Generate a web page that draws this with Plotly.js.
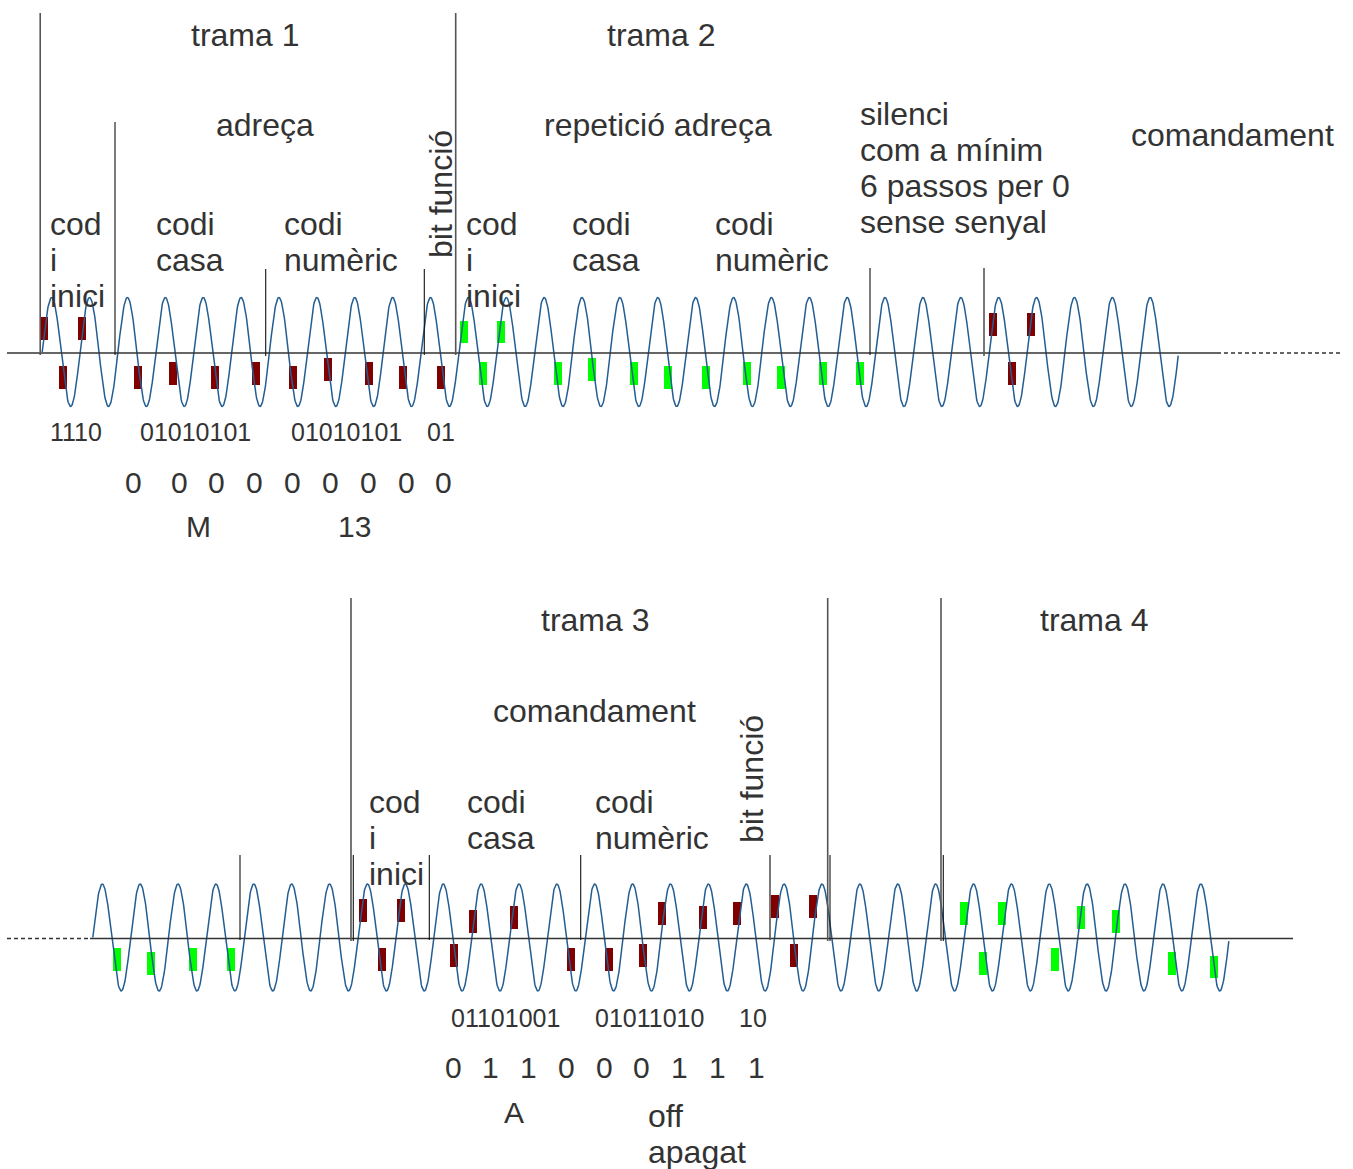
<!DOCTYPE html>
<html>
<head>
<meta charset="utf-8">
<script src="https://cdn.plot.ly/plotly-3.0.1.min.js"></script>
<style>
html,body{margin:0;padding:0;background:#fff;}
#chart{width:1353px;height:1169px;}
</style>
</head>
<body>
<div id="chart"></div>
<script>
// ---------- carrier waves (one per row) ----------
var waveStartX   = [42.2, 92.8];     // rising zero crossing where each carrier begins
var waveCycles   = [30, 30];
var wavePeriod   = 37.88;
var waveAxisY    = [352, 937.5];
var waveAmp      = [54.5, 53.5];

// ---------- baselines ----------
var baseSolidX0 = [7, 90];
var baseSolidX1 = [1217, 1293];
var baseSolidY  = [353, 938.5];
var baseDashX0  = [1217, 7];
var baseDashX1  = [1343, 90];

// ---------- bit pulses (x centre, top y) ----------
var redTopX   = [44, 82, 62.7, 138, 172.7, 214.5, 255.7, 293, 327.5, 369, 403, 441, 992.8, 1030.8, 1011.8];
var redTopY   = [317, 317, 366, 366, 362.3, 366, 362, 366, 358, 362, 366, 366, 313.3, 313.3, 362];
var greenTopX = [463.5, 501.3, 482.7, 558, 592, 633.7, 668, 705.7, 747, 781.3, 823, 860.3];
var greenTopY = [320.7, 320.7, 362, 362, 358, 362, 366, 366, 362, 366, 362, 362];
var greenBotX = [117, 151.3, 192.7, 230.7, 963.8, 1001.8, 982.8, 1054.7, 1081.2, 1115.5, 1171.8, 1213.7];
var greenBotY = [948.3, 952, 948.3, 948.3, 902.3, 902.3, 952, 948.3, 906.3, 910, 952, 955.7];
var redBotX   = [362.8, 400.8, 381.8, 453.7, 472.8, 514.2, 570.8, 608.8, 642.5, 661.5, 703.2, 737.2, 775.2, 812.8, 793.8];
var redBotY   = [899, 899, 948.3, 944.3, 910, 906.3, 948.3, 948.3, 944.3, 902.3, 906.3, 902.3, 895, 895, 944.3];
var pulseH = 22.5, pulseW = 8;

// ---------- divider lines ----------
var divX     = [40.2, 115, 265.7, 424.3, 455.7, 870, 984,  351, 353.3, 240, 429.3, 580.7, 770, 827.7, 830, 941, 943.3];
var divY0    = [13, 122, 269, 269, 13, 268, 268,  598, 855, 855, 855, 855, 855, 598, 855, 598, 855];
var divY1    = [355, 355, 356, 355, 355, 355, 356,  941, 941, 940, 940, 940, 940, 941, 941, 941, 941];
var divDark  = [0, 1, 1, 1, 0, 1, 0,  0, 1, 1, 1, 1, 0, 0, 1, 0, 1];

// ---------- texts ----------
var frameTitles = ['trama 1', 'trama 2', 'trama 3', 'trama 4'];
var frameTitleX = [245, 661, 594.5, 1093.5];
var frameTitleY = [35, 35, 620, 620];

var sectionTitles = ['adreça', 'repetició adreça', 'comandament', 'comandament'];
var sectionX = [264.5, 657.5, 1232, 594];
var sectionY = [125, 125, 135, 711];

var fieldLines = ['cod', 'i', 'inici', 'codi', 'casa', 'codi', 'numèric',
                  'cod', 'i', 'inici', 'codi', 'casa', 'codi', 'numèric',
                  'silenci', 'com a mínim', '6 passos per 0', 'sense senyal',
                  'cod', 'i', 'inici', 'codi', 'casa', 'codi', 'numèric',
                  'off', 'apagat'];
var fieldX = [49, 49, 49, 155, 155, 283, 283,
              465, 465, 465, 571, 571, 714, 714,
              859, 859, 859, 859,
              368, 368, 368, 466, 466, 594, 594,
              647, 647];
var fieldY = [224, 260, 296, 224, 260, 224, 260,
              224, 260, 296, 224, 260, 224, 260,
              114, 150, 186, 222,
              802, 838, 874, 802, 838, 802, 838,
              1116, 1152];

var verticalLabels = ['bit funció', 'bit funció'];
var verticalX = [441, 752];
var verticalY = [194, 779];

var bitStrings = ['1110', '01010101', '01010101', '01', '01101001', '01011010', '10'];
var bitStringX = [49, 139, 290, 426, 450, 594, 738];
var bitStringY = [432, 432, 432, 432, 1018, 1018, 1018];

var decodedTop  = ['0', '0', '0', '0', '0', '0', '0', '0', '0'];
var decodedTopX = [133, 179, 216, 254, 292, 330, 368, 406, 443];
var decodedBot  = ['0', '1', '1', '0', '0', '0', '1', '1', '1'];
var decodedBotX = [453, 490, 528, 566, 604, 641, 679, 717, 756];
var decodedY    = [482, 1067];

var meanings  = ['M', '13', 'A'];
var meaningX  = [198, 354, 514];
var meaningY  = [526, 526, 1112];

// ---------- build ----------
var FONT = 'Liberation Sans, Arial, sans-serif';
var TXT = '#333333';
var traces = [];

// waves
for (var w = 0; w < waveStartX.length; w++) {
  var xs = [], ys = [];
  var endX = waveStartX[w] + waveCycles[w] * wavePeriod;
  for (var x = waveStartX[w]; x <= endX + 0.01; x += 0.5) {
    xs.push(x);
    ys.push(waveAxisY[w] - waveAmp[w] * Math.sin(2 * Math.PI * (x - waveStartX[w]) / wavePeriod));
  }
  traces.push({type: 'scatter', mode: 'lines', x: xs, y: ys,
    line: {color: '#245d92', width: 1.5}, hoverinfo: 'skip'});
}

// baselines
var sx = [], sy = [], dx = [], dy = [];
for (var i = 0; i < baseSolidX0.length; i++) {
  sx.push(baseSolidX0[i], baseSolidX1[i], null); sy.push(baseSolidY[i], baseSolidY[i], null);
  dx.push(baseDashX0[i], baseDashX1[i], null); dy.push(baseSolidY[i], baseSolidY[i], null);
}
traces.push({type: 'scatter', mode: 'lines', x: sx, y: sy, line: {color: '#333333', width: 1.3}, hoverinfo: 'skip'});
traces.push({type: 'scatter', mode: 'lines', x: dx, y: dy, line: {color: '#333333', width: 1.3, dash: '4px,3px'}, hoverinfo: 'skip'});

// dividers
var gx = [], gy = [], kx = [], ky = [];
for (var j = 0; j < divX.length; j++) {
  if (divDark[j]) { kx.push(divX[j], divX[j], null); ky.push(divY0[j], divY1[j], null); }
  else { gx.push(divX[j], divX[j], null); gy.push(divY0[j], divY1[j], null); }
}
traces.push({type: 'scatter', mode: 'lines', x: gx, y: gy, line: {color: '#555555', width: 1.6}, hoverinfo: 'skip'});
traces.push({type: 'scatter', mode: 'lines', x: kx, y: ky, line: {color: '#111111', width: 1.1}, hoverinfo: 'skip'});

// pulses
function pulses(xArr, yArr, color) {
  var h = xArr.map(function () { return pulseH; });
  return {type: 'bar', x: xArr, base: yArr, y: h, width: pulseW,
    marker: {color: color, line: {width: 0}}, hoverinfo: 'skip'};
}
traces.push(pulses(redTopX, redTopY, '#800000'));
traces.push(pulses(greenTopX, greenTopY, '#00ff00'));
traces.push(pulses(greenBotX, greenBotY, '#00ff00'));
traces.push(pulses(redBotX, redBotY, '#800000'));

// annotations
var ann = [];
function add(text, x, y, anchor, size, angle) {
  ann.push({text: text, x: x, y: y, xref: 'x', yref: 'y', showarrow: false,
    xanchor: anchor, yanchor: 'middle', textangle: angle || 0, borderpad: 0,
    font: {family: FONT, size: size, color: TXT}});
}
frameTitles.forEach(function (t, i) { add(t, frameTitleX[i], frameTitleY[i], 'center', 32); });
sectionTitles.forEach(function (t, i) { add(t, sectionX[i], sectionY[i], 'center', 32); });
fieldLines.forEach(function (t, i) { add(t, fieldX[i], fieldY[i], 'left', 32); });
verticalLabels.forEach(function (t, i) { add(t, verticalX[i], verticalY[i], 'center', 32, -90); });
bitStrings.forEach(function (t, i) { add(t, bitStringX[i], bitStringY[i], 'left', 25); });
decodedTop.forEach(function (t, i) { add(t, decodedTopX[i], decodedY[0], 'center', 30); });
decodedBot.forEach(function (t, i) { add(t, decodedBotX[i], decodedY[1], 'center', 30); });
meanings.forEach(function (t, i) { add(t, meaningX[i], meaningY[i], 'center', 30); });

var layout = {
  width: 1353, height: 1169,
  margin: {l: 0, r: 0, t: 0, b: 0, pad: 0},
  paper_bgcolor: '#ffffff', plot_bgcolor: '#ffffff',
  showlegend: false, barmode: 'overlay', bargap: 0,
  xaxis: {range: [0, 1353], visible: false, fixedrange: true},
  yaxis: {range: [1169, 0], visible: false, fixedrange: true},
  annotations: ann
};
Plotly.newPlot('chart', traces, layout, {displayModeBar: false, staticPlot: true});
</script>
</body>
</html>
